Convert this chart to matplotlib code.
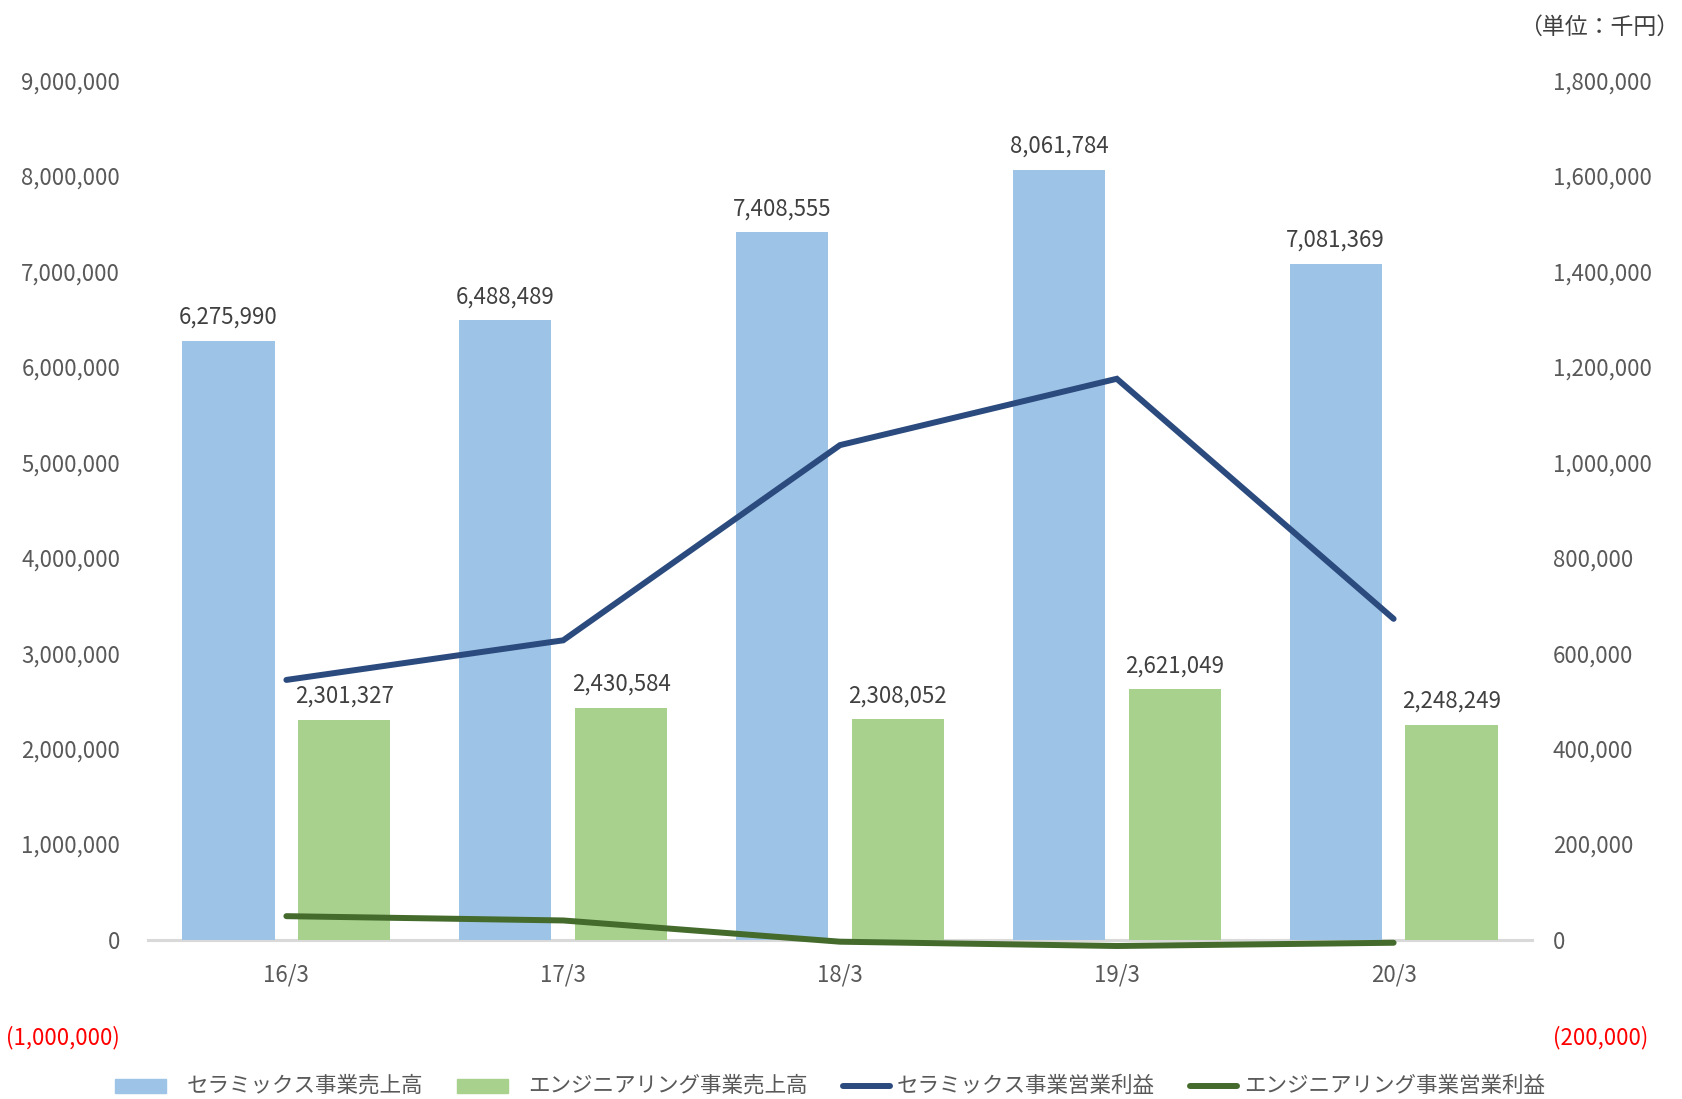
import numpy as np
import matplotlib
matplotlib.use('Agg')
import matplotlib.pyplot as plt
from matplotlib.lines import Line2D
from matplotlib.patches import Rectangle

plt.rcParams['font.family'] = ['Noto Sans CJK JP', 'DejaVu Sans']

years = ['16/3', '17/3', '18/3', '19/3', '20/3']
ceramics_sales = [6275990, 6488489, 7408555, 8061784, 7081369]
engineering_sales = [2301327, 2430584, 2308052, 2621049, 2248249]
ceramics_profit = [544000, 627000, 1036000, 1175000, 672000]
engineering_profit = [49000, 40000, -4500, -13500, -6700]

left_ticks = list(range(-1000000, 9000001, 1000000))
right_ticks = list(range(-200000, 1800001, 200000))

names = ['セラミックス事業売上高', 'エンジニアリング事業売上高',
         'セラミックス事業営業利益', 'エンジニアリング事業営業利益']

blue = '#9DC3E6'
green = '#A9D18E'
dblue = '#2B4A7E'
dgreen = '#446A2C'
tick_col = '#595959'

W, H = 1682, 1099
fig = plt.figure(figsize=(W / 100, H / 100), dpi=100)
ax = fig.add_axes([148 / W, 1 - 1035 / H, 1384 / W, (1035 - 80.5) / H])
ax2 = ax.twinx()

x = np.arange(len(years))
w = 0.333
off = 0.209
b1 = ax.bar(x - off, ceramics_sales, w, color=blue, zorder=2)
b2 = ax.bar(x + off, engineering_sales, w, color=green, zorder=2)

for bars, vals in [(b1, ceramics_sales), (b2, engineering_sales)]:
    for r, v in zip(bars, vals):
        ax.annotate(f'{v:,}', (r.get_x() + r.get_width() / 2, v), xytext=(0, 17),
                    textcoords='offset points', ha='center', va='center',
                    fontsize=16, color='#404040')

ax2.plot(x, ceramics_profit, color=dblue, lw=4.3, solid_capstyle='round', solid_joinstyle='miter', zorder=3)
ax2.plot(x, engineering_profit, color=dgreen, lw=4.3, solid_capstyle='round', solid_joinstyle='miter', zorder=3)

ax.set_xlim(-0.5, 4.5)
ax.set_ylim(-1000000, 9000000)
ax2.set_ylim(-200000, 1800000)
ax.set_yticks(left_ticks)
ax2.set_yticks(right_ticks)


def fmt(v):
    if v < 0:
        return f'({-v:,})'
    return f'{v:,}'


ax.set_yticklabels([fmt(v) for v in left_ticks])
ax2.set_yticklabels([fmt(v) for v in right_ticks])
for lab, v in zip(ax.get_yticklabels(), left_ticks):
    lab.set_color('red' if v < 0 else tick_col)
for lab, v in zip(ax2.get_yticklabels(), right_ticks):
    lab.set_color('red' if v < 0 else tick_col)

ax.set_xticks(x)
ax.set_xticklabels(years)
ax.tick_params(axis='x', length=0, pad=17, labelsize=16, labelcolor=tick_col)
ax.tick_params(axis='y', length=0, pad=20, labelsize=16)
ax2.tick_params(axis='y', length=0, pad=15, labelsize=16)

for a in (ax, ax2):
    for s in a.spines.values():
        s.set_visible(False)
ax.spines['bottom'].set_visible(True)
ax.spines['bottom'].set_position(('data', 0))
ax.spines['bottom'].set_color('#D9D9D9')
ax.spines['bottom'].set_linewidth(2.2)
ax.spines['bottom'].set_zorder(1)

fig.text(1679 / W, 1 - 27 / H, '（単位：千円）', ha='right', va='center',
         fontsize=16.5, color='#404040')

# legend drawn by hand, items placed one after another (pixel coords)
renderer = fig.canvas.get_renderer()
ly = 1 - 1086 / H
xpos = 115
kinds = ['patch', 'patch', 'line', 'line']
cols = [blue, green, dblue, dgreen]
for name, kind, c in zip(names, kinds, cols):
    if kind == 'patch':
        fig.patches.append(Rectangle((xpos / W, ly - 7 / H), 51 / W, 14 / H,
                                     color=c, transform=fig.transFigure))
        tx = xpos + 51 + 21
    else:
        fig.lines.append(Line2D([(xpos + 2) / W, (xpos + 49) / W], [ly, ly], color=c, lw=4.3,
                                solid_capstyle='round', transform=fig.transFigure))
        tx = xpos + 51 + 5
    t = fig.text(tx / W, ly, name, ha='left', va='center', fontsize=15.5, color=tick_col)
    ext = t.get_window_extent(renderer)
    xpos = ext.x1 + 33

fig.savefig('out.png', dpi=100)
